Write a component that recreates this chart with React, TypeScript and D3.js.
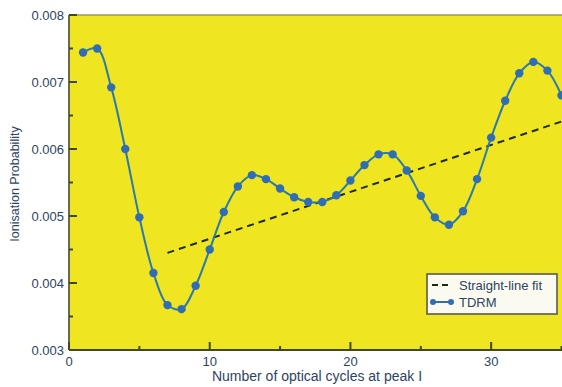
import * as d3 from "d3";

const cycles = [1, 2, 3, 4, 5, 6, 7, 8, 9, 10, 11, 12, 13, 14, 15, 16, 17, 18, 19, 20, 21, 22, 23, 24, 25, 26, 27, 28, 29, 30, 31, 32, 33, 34, 35];
const tdrm = [
  0.00744, 0.0075, 0.00692, 0.006, 0.00498, 0.00415, 0.00367, 0.00361, 0.00396, 0.0045,
  0.00506, 0.00544, 0.00561, 0.00555, 0.00541, 0.00528, 0.00521, 0.00521, 0.00531, 0.00553,
  0.00576, 0.00592, 0.00592, 0.00568, 0.0053, 0.00498, 0.00487, 0.00507, 0.00555, 0.00617,
  0.00672, 0.00713, 0.0073, 0.00717, 0.0068,
];
const fitX = [7, 35];
const fitY = [0.00445, 0.00641];
const xTicks = [0, 10, 20, 30];
const xMinor = [5, 15, 25, 35];
const yTicks = [0.003, 0.004, 0.005, 0.006, 0.007, 0.008];
const yMinor = [0.0035, 0.0045, 0.0055, 0.0065, 0.0075];

const W = 562;
const H = 387;
const m = { left: 69, right: 0.5, top: 15, bottom: 37 };
const font = "'Liberation Sans', Arial, sans-serif";
const axisCol = "#3f4a22";
const textCol = "#2c4463";
const blue = "#2f6eb5";

export default function App() {
  const x = d3.scaleLinear().domain([0, 35]).range([m.left, W - m.right]);
  const y = d3.scaleLinear().domain([0.003, 0.008]).range([H - m.bottom, m.top]);
  const pts = cycles.map((c, i) => [c, tdrm[i]] as [number, number]);
  const line = d3
    .line<[number, number]>()
    .x((d) => x(d[0]))
    .y((d) => y(d[1]))
    .curve(d3.curveCatmullRom);
  const fit = fitX.map((c, i) => [c, fitY[i]] as [number, number]);
  const straight = d3.line<[number, number]>().x((d) => x(d[0])).y((d) => y(d[1]));
  const bottom = y(0.003);
  const top = y(0.008);

  return (
    <div style={{ position: "fixed", left: 0, top: 0 }}>
      <svg width={W} height={H} style={{ display: "block", background: "#fff" }}>
        <defs>
          <clipPath id="plot">
            <rect x={m.left} y={top} width={W - m.left} height={bottom - top} />
          </clipPath>
        </defs>
        <rect x={m.left} y={top} width={W - m.left} height={bottom - top} fill="#efe520" />
        <line x1={m.left} x2={W} y1={top} y2={top} stroke="#9a9470" strokeWidth={1.5} />

        <g clipPath="url(#plot)">
          <path d={straight(fit) || ""} fill="none" stroke="#1c2a10" strokeWidth={2} strokeDasharray="7,5" />
          <path d={line(pts) || ""} fill="none" stroke="#2a7aae" strokeWidth={2} />
          {pts.map((d, i) => (
            <circle key={i} cx={x(d[0])} cy={y(d[1])} r={4.2} fill={blue} />
          ))}
        </g>

        {/* axes */}
        <line x1={m.left} x2={m.left} y1={top} y2={bottom} stroke="#6b6a48" strokeWidth={2} />
        <line x1={m.left} x2={W} y1={bottom} y2={bottom} stroke={axisCol} strokeWidth={2} />
        {yTicks.map((t) => (
          <g key={t}>
            <line x1={m.left} x2={m.left + 8} y1={y(t)} y2={y(t)} stroke={axisCol} strokeWidth={2} />
            <text x={m.left - 5} y={y(t)} dy="0.35em" textAnchor="end" fontFamily={font} fontSize={13} fill={textCol}>
              {d3.format(".3f")(t)}
            </text>
          </g>
        ))}
        {yMinor.map((t) => (
          <line key={t} x1={m.left} x2={m.left + 4} y1={y(t)} y2={y(t)} stroke={axisCol} strokeWidth={2} />
        ))}
        {xTicks.map((t) => (
          <g key={t}>
            <line x1={x(t)} x2={x(t)} y1={bottom} y2={bottom - 8} stroke={axisCol} strokeWidth={2} />
            <text x={x(t)} y={bottom + 16} textAnchor="middle" fontFamily={font} fontSize={13} fill={textCol}>
              {t}
            </text>
          </g>
        ))}
        {xMinor.map((t) => (
          <line key={t} x1={x(t)} x2={x(t)} y1={bottom} y2={bottom - 4} stroke={axisCol} strokeWidth={2} />
        ))}

        <text x={317} y={381} textAnchor="middle" fontFamily={font} fontSize={14} fill={textCol}>
          Number of optical cycles at peak I
        </text>
        <text
          transform={`translate(19,${184}) rotate(-90)`}
          textAnchor="middle"
          fontFamily={font}
          fontSize={12.5}
          fill={textCol}
        >
          Ionisation Probability
        </text>

        {/* legend */}
        <g>
          <rect x={427} y={274} width={130} height={40} fill="#fbfaf0" stroke="#6a6a55" strokeWidth={1.8} />
          <line x1={432} x2={452} y1={285} y2={285} stroke="#1c2a10" strokeWidth={2} strokeDasharray="6,4" />
          <text x={459} y={285} dy="0.35em" fontFamily={font} fontSize={13} fill={textCol}>
            Straight-line fit
          </text>
          <line x1={432} x2={452} y1={302} y2={302} stroke={blue} strokeWidth={2} />
          <circle cx={433} cy={302} r={3} fill={blue} />
          <circle cx={451} cy={302} r={3} fill={blue} />
          <text x={459} y={302} dy="0.35em" fontFamily={font} fontSize={13} fill={textCol}>
            TDRM
          </text>
        </g>
      </svg>
    </div>
  );
}
